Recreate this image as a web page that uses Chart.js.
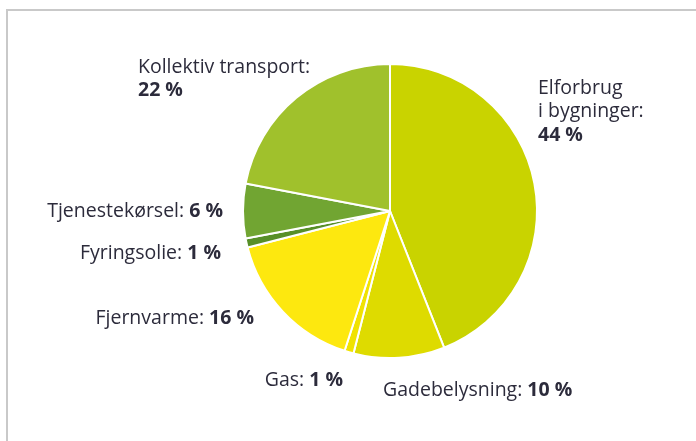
<!DOCTYPE html>
<html>
<head>
<meta charset="utf-8">
<script src="https://cdn.jsdelivr.net/npm/chart.js@4/dist/chart.umd.min.js"></script>
<style>
  html, body { margin: 0; padding: 0; background: #fff; }
  body { width: 696px; height: 441px; position: relative; overflow: hidden; }
  .frame { position: absolute; left: 6px; top: 9px; right: -10px; bottom: -10px;
           border-top: 2px solid #c9c9c9; border-left: 2px solid #c9c9c9; }
  #wrap { position: absolute; left: 0; top: 0; width: 696px; height: 441px; }
</style>
</head>
<body>
<div class="frame"></div>
<div id="wrap"><canvas id="myChart"></canvas></div>
<script>
const categories = [
  "Elforbrug i bygninger",
  "Gadebelysning",
  "Gas",
  "Fjernvarme",
  "Fyringsolie",
  "Tjenestekørsel",
  "Kollektiv transport",
];
const shares = [44, 10, 1, 16, 1, 6, 22];
const colors = ["#c9d300", "#dedb00", "#f0e200", "#fde80f", "#578f28", "#71a532", "#a0c12c"];

// label text lines (the value is added in bold)
const labelLines = [
  ["Elforbrug", "i bygninger:"],
  ["Gadebelysning:"],
  ["Gas:"],
  ["Fjernvarme:"],
  ["Fyringsolie:"],
  ["Tjenestekørsel:"],
  ["Kollektiv transport:"],
];
const valueOnNewLine = [true, false, false, false, false, false, true];
// [x offset from pie centre, y offset of first line, align]
const labelPos = [
  [148, -123, "left"],
  [-7, 179, "left"],
  [-47, 169, "right"],
  [-136, 107, "right"],
  [-169, 42, "right"],
  [-167, 0, "right"],
  [-252, -144, "left"],
];

const font = "'Open Sans', 'Noto Sans', sans-serif";
const size = 19.5;
const lineH = 23.5;

const labelPlugin = {
  id: "sliceLabels",
  afterDraw(chart) {
    const ctx = chart.ctx;
    const arc = chart.getDatasetMeta(0).data[0];
    const cx = arc.x, cy = arc.y;
    ctx.save();
    ctx.fillStyle = "#2c2b3b";
    ctx.textBaseline = "middle";
    ctx.textAlign = "left";
    labelLines.forEach((lines, i) => {
      const [dx, dy, align] = labelPos[i];
      const x = cx + dx;
      let y = cy + dy;
      const val = shares[i] + " %";
      const rows = lines.map((t) => [t, ""]);
      if (valueOnNewLine[i]) rows.push(["", val]);
      else rows[rows.length - 1][1] = " " + val;
      rows.forEach(([txt, bold]) => {
        ctx.font = size + "px " + font;
        const w1 = ctx.measureText(txt).width;
        ctx.font = "bold " + size + "px " + font;
        const w2 = ctx.measureText(bold).width;
        const start = align === "left" ? x : x - w1 - w2;
        ctx.font = size + "px " + font;
        ctx.fillText(txt, start, y);
        ctx.font = "bold " + size + "px " + font;
        ctx.fillText(bold, start + w1, y);
        y += lineH;
      });
    });
    ctx.restore();
  },
};

new Chart(document.getElementById("myChart"), {
  type: "pie",
  data: {
    labels: categories,
    datasets: [
      {
        data: shares,
        backgroundColor: colors,
        borderColor: "#ffffff",
        borderWidth: 2,
      },
    ],
  },
  options: {
    responsive: true,
    maintainAspectRatio: false,
    animation: false,
    layout: { padding: { left: 242, right: 158, top: 63, bottom: 82 } },
    plugins: {
      legend: { display: false },
      tooltip: { enabled: false },
    },
  },
  plugins: [labelPlugin],
});
</script>
</body>
</html>
